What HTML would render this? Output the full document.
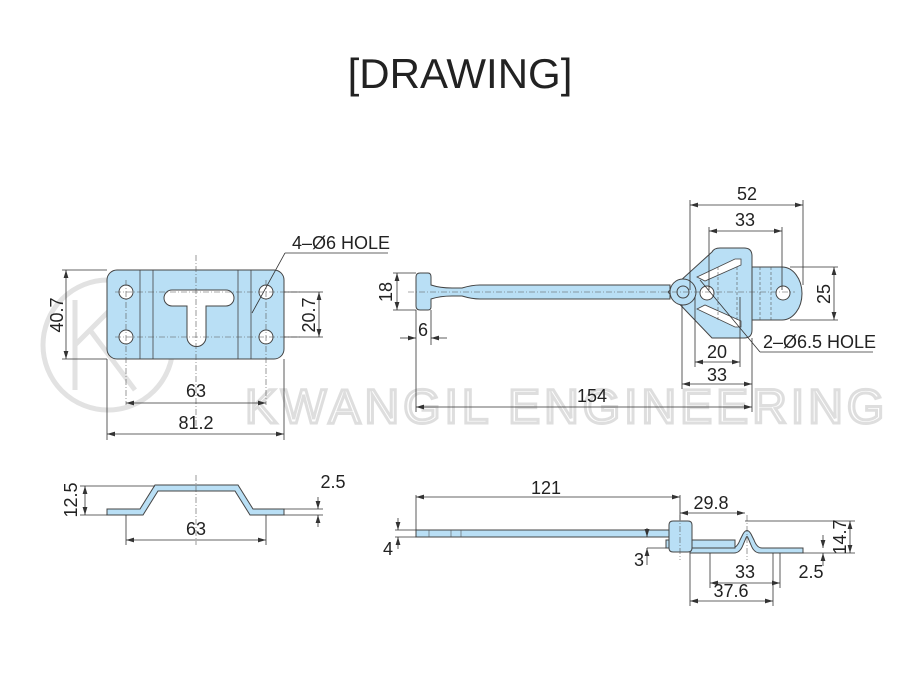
<!DOCTYPE html>
<html><head><meta charset="utf-8"><style>
html,body{margin:0;padding:0;background:#fff}
svg{display:block}
text{font-family:"Liberation Sans",sans-serif;fill:#222}
.d{stroke:#333;stroke-width:0.8;fill:none}
.p{fill:#b9dff5;stroke:#444;stroke-width:1}
.c{stroke:#555;stroke-width:0.6;stroke-dasharray:6 2 1 2;fill:none}
.t{font-size:18px}
</style></head><body>
<svg width="921" height="700" viewBox="0 0 921 700">
<defs><marker id="a" viewBox="0 0 10 6" refX="10" refY="3" markerWidth="10" markerHeight="6" orient="auto-start-reverse"><path d="M0,0L10,3L0,6z" fill="#333"/></marker></defs>
<!-- watermark -->
<g fill="none" stroke="#e2e2e2" stroke-width="5">
<circle cx="108" cy="345" r="65"/>
<path d="M75 300V390M75 345L120 300M90 330L135 390"/>
</g>
<text x="245" y="423" style="font-size:48px;fill:none;stroke:#dedede;stroke-width:3;letter-spacing:4px">KWANGIL ENGINEERING</text>
<text x="460" y="88" text-anchor="middle" style="font-size:42px">[DRAWING]</text>

<!-- plate top view -->
<rect x="107" y="270" width="177" height="89" rx="10" class="p"/>
<path d="M140 270V359M153 270V359M238 270V359M251 270V359" stroke="#444" stroke-width="0.8"/>
<circle cx="126" cy="292" r="7" fill="#fff" stroke="#444"/><circle cx="126" cy="337" r="7" fill="#fff" stroke="#444"/><circle cx="266" cy="292" r="7" fill="#fff" stroke="#444"/><circle cx="266" cy="337" r="7" fill="#fff" stroke="#444"/>
<path d="M172 290H226A8 8 0 0 1 226 306H206V337A9.5 9.5 0 0 1 187 337V306H172A8 8 0 0 1 172 290Z" fill="#fff" stroke="#444"/>
<path d="M196 255V430M115 292H300M115 337H300M126 280V405M266 280V405" class="c"/>
<path d="M62 270H107M62 359H107M284 292H323M284 337H323M107 359V440M284 359V440" class="d"/>
<line x1="66" y1="270" x2="66" y2="359" class="d" marker-start="url(#a)" marker-end="url(#a)"/>
<line x1="319" y1="292" x2="319" y2="337" class="d" marker-start="url(#a)" marker-end="url(#a)"/>
<line x1="126" y1="403" x2="266" y2="403" class="d" marker-start="url(#a)" marker-end="url(#a)"/>
<line x1="107" y1="434" x2="284" y2="434" class="d" marker-start="url(#a)" marker-end="url(#a)"/>
<text class="t" transform="translate(63,315) rotate(-90)" text-anchor="middle">40.7</text>
<text class="t" transform="translate(315,315) rotate(-90)" text-anchor="middle">20.7</text>
<text class="t" x="196" y="397" text-anchor="middle">63</text>
<text class="t" x="196" y="429" text-anchor="middle">81.2</text>
<text class="t" x="292" y="249">4–Ø6 HOLE</text>
<path d="M285 253H388M285 253L252 313" class="d"/>

<!-- hook top view -->
<path d="M420 273H428Q431 273 431 277V285Q440 288 452 288H462Q472 285 480 285H670V299H480Q472 299 462 296H452Q440 296 431 299V307Q431 310 428 310H420Q416 310 416 306V277Q416 273 420 273Z" class="p"/>
<path d="M700 267H782A20 26.5 0 0 1 782 320H700Z" class="p"/>
<path d="M668 292L712 252Q714 248 720 248H744Q752 248 752 256V330Q752 338 744 338H712Z" class="p"/>
<path d="M752 267H782M752 320H782" stroke="#444" stroke-width="1"/>
<path d="M697 277L735 259H741V265L705 281Z M697 309L705 305L741 321V327H735Z" fill="#fff" stroke="#444" stroke-width="0.8"/>
<path d="M718 267V320M737 267V320M760 267V320M771 267V320" stroke="#555" stroke-width="0.6" stroke-dasharray="3 2"/>
<circle cx="683" cy="292" r="13" class="p"/><circle cx="683" cy="292" r="6" fill="none" stroke="#444"/>
<circle cx="707" cy="293" r="7" fill="#fff" stroke="#444"/><circle cx="783" cy="293" r="7" fill="#fff" stroke="#444"/>
<path d="M408 292H795" class="c"/>
<path d="M690 200V290M803 200V285M709 227V290M782 227V290M790 267H838M790 320H838M393 273H416M393 310H416M416 310V345M431 310V345M416 313V412M695 297V367M740 297V367M682 305V389M752 338V412" class="d"/>
<line x1="690" y1="205" x2="803" y2="205" class="d" marker-start="url(#a)" marker-end="url(#a)"/>
<line x1="709" y1="231" x2="782" y2="231" class="d" marker-start="url(#a)" marker-end="url(#a)"/>
<line x1="834" y1="267" x2="834" y2="320" class="d" marker-start="url(#a)" marker-end="url(#a)"/>
<line x1="397" y1="273" x2="397" y2="310" class="d" marker-start="url(#a)" marker-end="url(#a)"/>
<line x1="400" y1="338" x2="416" y2="338" class="d" marker-end="url(#a)"/>
<line x1="447" y1="338" x2="431" y2="338" class="d" marker-end="url(#a)"/>
<line x1="695" y1="362" x2="740" y2="362" class="d" marker-start="url(#a)" marker-end="url(#a)"/>
<line x1="682" y1="384" x2="752" y2="384" class="d" marker-start="url(#a)" marker-end="url(#a)"/>
<line x1="416" y1="407" x2="752" y2="407" class="d" marker-start="url(#a)" marker-end="url(#a)"/>
<text class="t" x="747" y="200" text-anchor="middle">52</text>
<text class="t" x="745" y="226" text-anchor="middle">33</text>
<text class="t" transform="translate(830,294) rotate(-90)" text-anchor="middle">25</text>
<text class="t" transform="translate(392,292) rotate(-90)" text-anchor="middle">18</text>
<text class="t" x="423" y="336" text-anchor="middle">6</text>
<text class="t" x="717" y="358" text-anchor="middle">20</text>
<text class="t" x="717" y="381" text-anchor="middle">33</text>
<text class="t" x="592" y="402" text-anchor="middle">154</text>
<text class="t" x="763" y="348">2–Ø6.5 HOLE</text>
<path d="M760 352H873M760 352L700 280" class="d"/>

<!-- side view left -->
<path d="M107 509H140L155 485H238L253 509H284V515H250L235 491H158L143 515H107Z" class="p"/>
<path d="M196 475V545" class="c"/>
<path d="M80 486H155M80 515H107M284 509H323M284 515H323M126 515V545M266 515V545" class="d"/>
<line x1="85" y1="486" x2="85" y2="515" class="d" marker-start="url(#a)" marker-end="url(#a)"/>
<line x1="318" y1="497" x2="318" y2="509" class="d" marker-end="url(#a)"/>
<line x1="318" y1="527" x2="318" y2="515" class="d" marker-end="url(#a)"/>
<line x1="126" y1="540" x2="266" y2="540" class="d" marker-start="url(#a)" marker-end="url(#a)"/>
<text class="t" transform="translate(77,500) rotate(-90)" text-anchor="middle">12.5</text>
<text class="t" x="333" y="488" text-anchor="middle">2.5</text>
<text class="t" x="196" y="535" text-anchor="middle">63</text>

<!-- side view right -->
<rect x="416" y="530" width="254" height="7" class="p"/>
<path d="M429 530V537M451 530V537M461 530V537" stroke="#555" stroke-width="0.6"/>
<path d="M690 548H732Q737 548 740 540L743 534Q747 527 751 534L754 540Q757 548 762 548H803V553H760Q754 553 751 545L748 538Q747 535 746 538L743 545Q740 553 734 553H690Z" class="p"/>
<path d="M666 540H735V548H666Z" class="p"/>
<path d="M673 521H688Q692 521 692 525V548Q692 552 688 552H673Q669 552 669 548V525Q669 521 673 521Z" class="p"/>
<path d="M680 515V560M747 515V560" class="c"/>
<path d="M416 495V530M680 495V520M395 530H416M395 537H416M647 548H666M690 553V606M773 553V606M710 553V588M780 553V588M745 521H855M803 553H855" class="d"/>
<line x1="416" y1="497" x2="680" y2="497" class="d" marker-start="url(#a)" marker-end="url(#a)"/>
<line x1="680" y1="513" x2="745" y2="513" class="d" marker-start="url(#a)" marker-end="url(#a)"/>
<line x1="398" y1="518" x2="398" y2="530" class="d" marker-end="url(#a)"/>
<line x1="398" y1="549" x2="398" y2="537" class="d" marker-end="url(#a)"/>
<line x1="647" y1="528" x2="647" y2="537" class="d" marker-end="url(#a)"/>
<line x1="647" y1="565" x2="647" y2="548" class="d" marker-end="url(#a)"/>
<line x1="850" y1="521" x2="850" y2="553" class="d" marker-start="url(#a)" marker-end="url(#a)"/>
<line x1="823" y1="535" x2="823" y2="548" class="d" marker-end="url(#a)"/>
<line x1="823" y1="566" x2="823" y2="553" class="d" marker-end="url(#a)"/>
<line x1="710" y1="583" x2="780" y2="583" class="d" marker-start="url(#a)" marker-end="url(#a)"/>
<line x1="690" y1="601" x2="773" y2="601" class="d" marker-start="url(#a)" marker-end="url(#a)"/>
<text class="t" x="546" y="494" text-anchor="middle">121</text>
<text class="t" x="711" y="509" text-anchor="middle">29.8</text>
<text class="t" x="388" y="555" text-anchor="middle">4</text>
<text class="t" x="639" y="566" text-anchor="middle">3</text>
<text class="t" transform="translate(846,537) rotate(-90)" text-anchor="middle">14.7</text>
<text class="t" x="811" y="578" text-anchor="middle">2.5</text>
<text class="t" x="745" y="578" text-anchor="middle">33</text>
<text class="t" x="731" y="597" text-anchor="middle">37.6</text>
</svg>
</body></html>
